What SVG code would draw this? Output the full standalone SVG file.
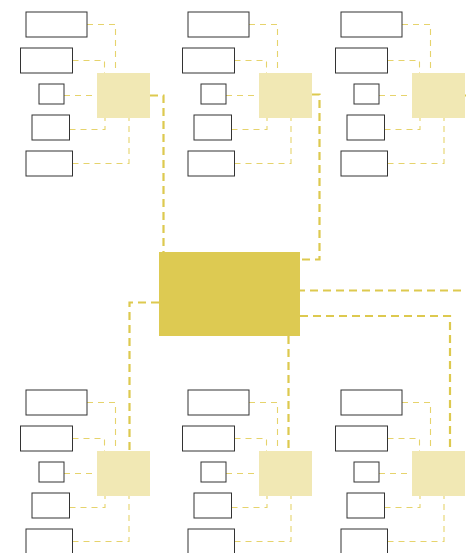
<svg xmlns="http://www.w3.org/2000/svg" width="466" height="553" viewBox="0 0 466 553">
<defs>
<style>
.leaf{fill:#ffffff;stroke:#333333;stroke-width:1}
.hub{fill:#f1e8b4}
.center{fill:#ddca52}
.thin{fill:none;stroke:#e6d36c;stroke-width:1.1;stroke-dasharray:6 5}
.thick{fill:none;stroke:#ddc94f;stroke-width:2.2;stroke-dasharray:8 5}
</style>
<g id="cluster">
<rect class="leaf" x="26" y="12" width="61" height="25"/>
<rect class="leaf" x="20.5" y="48" width="52" height="25"/>
<rect class="leaf" x="39" y="84" width="25" height="20"/>
<rect class="leaf" x="32" y="115" width="37.5" height="25"/>
<rect class="leaf" x="26" y="151" width="46.5" height="25"/>
<rect class="hub" x="97" y="73" width="53" height="45"/>
</g>
<g id="spokes">
<path class="thin" d="M87 24.5H115.5V73"/>
<path class="thin" d="M72.5 60.5H104.5V73"/>
<path class="thin" d="M64 95.5H97"/>
<path class="thin" d="M69.5 129.5H105V118"/>
<path class="thin" d="M72.5 163.5H129V118"/>
</g>
</defs>
<g id="connectors">
<use href="#spokes"/>
<use href="#spokes" x="162"/>
<use href="#spokes" x="315"/>
<use href="#spokes" y="378"/>
<use href="#spokes" x="162" y="378"/>
<use href="#spokes" x="315" y="378"/>
<path class="thick" d="M150 95.5H163.5V252"/>
<path class="thick" d="M312 94.5H319.5V259.5H300"/>
<path class="thick" d="M465 95.5H476V290.5H300"/>
<path class="thick" d="M159 302.5H129.5V451"/>
<path class="thick" d="M288.5 336V451"/>
<path class="thick" d="M300 316H450V451"/>
</g>
<g id="group-top-left"><use href="#cluster"/></g>
<g id="group-top-middle"><use href="#cluster" x="162"/></g>
<g id="group-top-right"><use href="#cluster" x="315"/></g>
<g id="group-bottom-left"><use href="#cluster" y="378"/></g>
<g id="group-bottom-middle"><use href="#cluster" x="162" y="378"/></g>
<g id="group-bottom-right"><use href="#cluster" x="315" y="378"/></g>
<g id="center-node"><rect class="center" x="159" y="252" width="141" height="84"/></g>
</svg>
